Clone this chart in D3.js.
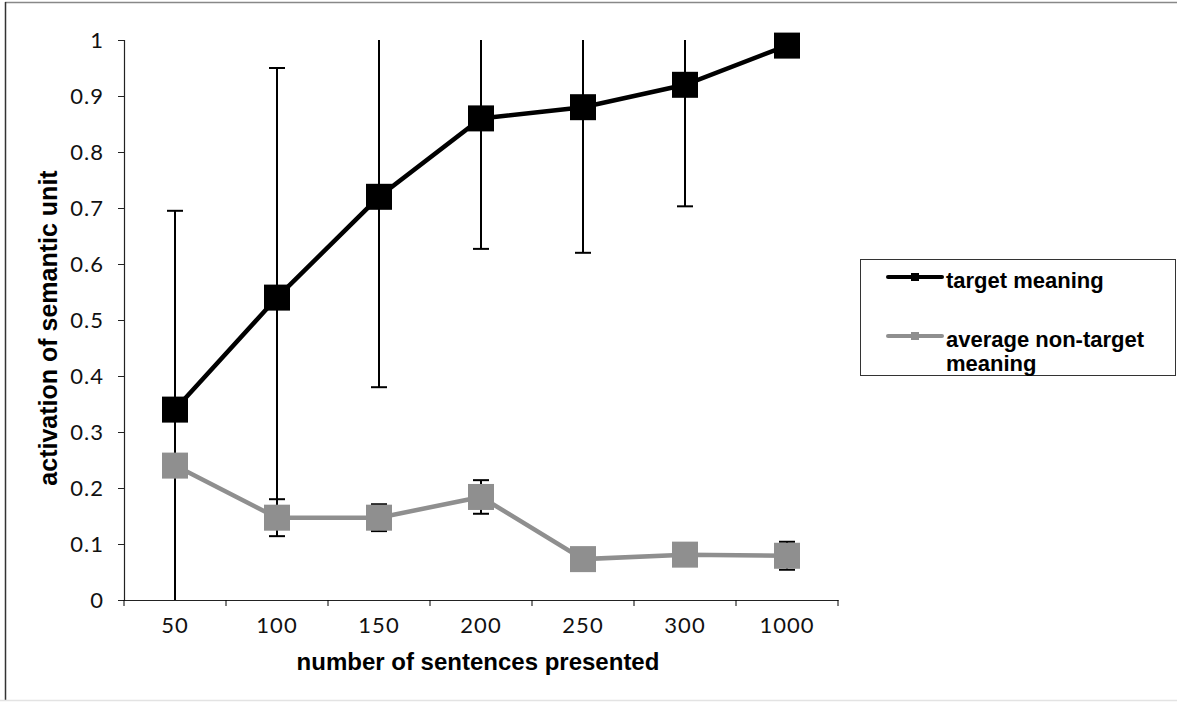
<!DOCTYPE html>
<html>
<head>
<meta charset="utf-8">
<script src="https://cdn.jsdelivr.net/npm/d3@7"></script>
<style>
  body { margin: 0; background: #fff; }
  svg { display: block; }
</style>
</head>
<body>
<div id="chart"></div>
<script>
// data
const categories = ['50', '100', '150', '200', '250', '300', '1000'];
const targetValues = [0.34, 0.54, 0.72, 0.86, 0.88, 0.92, 0.99];
const targetErr = [0.355, 0.41, 0.34, 0.233, 0.26, 0.217, 0];
const nonTargetValues = [0.24, 0.147, 0.147, 0.184, 0.073, 0.081, 0.079];
const nonTargetErr = [0.02, 0.033, 0.024, 0.03, 0.01, 0.01, 0.025];
const yTicks = [0, 0.1, 0.2, 0.3, 0.4, 0.5, 0.6, 0.7, 0.8, 0.9, 1];
const seriesNames = ['target meaning', 'average non-target meaning'];

const W = 1177, H = 702;
const plot = { left: 124, right: 838, top: 40, bottom: 600 };
const tickFont = 'Lato, "Noto Sans", sans-serif';
const boldFont = '"Liberation Sans", Arial, Helvetica, sans-serif';
const grey = '#8f8f8f';

const svg = d3.select('#chart').append('svg')
    .attr('width', W).attr('height', H);

// outer frame
svg.append('line').attr('x1', 5).attr('x2', W).attr('y1', 2.5).attr('y2', 2.5)
    .attr('stroke', '#888').attr('stroke-width', 1.5);
svg.append('line').attr('x1', 5.5).attr('x2', 5.5).attr('y1', 2).attr('y2', 700)
    .attr('stroke', '#333').attr('stroke-width', 1.5);
svg.append('line').attr('x1', 0).attr('x2', W).attr('y1', 700.5).attr('y2', 700.5)
    .attr('stroke', '#e3e3e3').attr('stroke-width', 1.5);

// scales
const x = d3.scaleBand().domain(categories).range([plot.left, plot.right]);
const y = d3.scaleLinear().domain([0, 1]).range([plot.bottom, plot.top]);
const cx = c => x(c) + x.bandwidth() / 2;

svg.append('defs').append('clipPath').attr('id', 'plotClip')
    .append('rect')
    .attr('x', plot.left).attr('y', plot.top)
    .attr('width', plot.right - plot.left).attr('height', plot.bottom - plot.top);

// y axis
const yAxis = svg.append('g')
    .attr('transform', `translate(${plot.left},0)`)
    .call(d3.axisLeft(y).tickValues(yTicks).tickSize(6).tickPadding(14)
        .tickFormat(d => d3.format('~g')(d)));
yAxis.selectAll('text').attr('font-family', tickFont).attr('font-size', 22)
    .attr('letter-spacing', 1).attr('fill', '#111');

// x axis: labels centred, ticks at band edges
const xAxis = svg.append('g')
    .attr('transform', `translate(0,${plot.bottom})`)
    .call(d3.axisBottom(x).tickSize(0).tickPadding(17));
xAxis.selectAll('text').attr('font-family', tickFont).attr('font-size', 22)
    .attr('letter-spacing', 1).attr('fill', '#111');
const edges = categories.map(c => x(c)).concat([x.range()[1]]);
xAxis.selectAll('.edge').data(edges).join('line')
    .attr('class', 'edge')
    .attr('x1', d => d).attr('x2', d => d)
    .attr('y1', 0).attr('y2', 6)
    .attr('stroke', '#000');
svg.selectAll('.domain').attr('stroke', '#222').attr('stroke-width', 1.2);
svg.selectAll('.tick line').attr('stroke', '#222');

// axis titles
svg.append('text')
    .attr('x', (plot.left + plot.right) / 2 - 3).attr('y', 670)
    .attr('text-anchor', 'middle')
    .attr('font-family', boldFont).attr('font-weight', 'bold').attr('font-size', 24)
    .text('number of sentences presented');
svg.append('text')
    .attr('transform', `translate(57,328) rotate(-90)`)
    .attr('text-anchor', 'middle')
    .attr('font-family', boldFont).attr('font-weight', 'bold').attr('font-size', 25)
    .text('activation of semantic unit');

// error bars (behind the markers)
const errG = svg.append('g').attr('clip-path', 'url(#plotClip)');
function drawErr(values, errs) {
    const rows = categories.map((c, i) => ({ c, v: values[i], e: errs[i] }));
    errG.append('g').selectAll('line').data(rows).join('line')
        .attr('x1', d => cx(d.c)).attr('x2', d => cx(d.c))
        .attr('y1', d => y(d.v + d.e)).attr('y2', d => y(d.v - d.e))
        .attr('stroke', '#000').attr('stroke-width', 2);
    [1, -1].forEach(s => {
        errG.append('g').selectAll('line').data(rows.filter(d => d.e > 0)).join('line')
            .attr('x1', d => cx(d.c) - 8).attr('x2', d => cx(d.c) + 8)
            .attr('y1', d => y(d.v + s * d.e)).attr('y2', d => y(d.v + s * d.e))
            .attr('stroke', '#000').attr('stroke-width', 2);
    });
}
drawErr(targetValues, targetErr);
drawErr(nonTargetValues, nonTargetErr);

// series lines + square markers
const line = d3.line().x((d, i) => cx(categories[i])).y(d => y(d));
function drawSeries(values, color) {
    svg.append('path').datum(values)
        .attr('d', line).attr('fill', 'none')
        .attr('stroke', color).attr('stroke-width', 4.5);
    svg.append('g').selectAll('rect').data(values).join('rect')
        .attr('x', (d, i) => cx(categories[i]) - 13)
        .attr('y', d => y(d) - 13)
        .attr('width', 26).attr('height', 26)
        .attr('fill', color);
}
drawSeries(targetValues, '#000');
drawSeries(nonTargetValues, grey);

// legend
const legend = svg.append('g');
legend.append('rect')
    .attr('x', 860.5).attr('y', 259.5).attr('width', 315).attr('height', 116)
    .attr('fill', '#fff').attr('stroke', '#333').attr('stroke-width', 1);
const legendItems = [
    { name: seriesNames[0], color: '#000', y: 277, lines: ['target meaning'] },
    { name: seriesNames[1], color: grey, y: 336, lines: ['average non-target', 'meaning'] }
];
legendItems.forEach(item => {
    legend.append('line')
        .attr('x1', 888).attr('x2', 942).attr('y1', item.y).attr('y2', item.y)
        .attr('stroke', item.color).attr('stroke-width', 4).attr('stroke-linecap', 'round');
    legend.append('rect')
        .attr('x', 911).attr('y', item.y - 4).attr('width', 8).attr('height', 8)
        .attr('fill', item.color);
    const t = legend.append('text')
        .attr('x', 946).attr('y', item.y + 11)
        .attr('font-family', boldFont).attr('font-weight', 'bold').attr('font-size', 22);
    item.lines.forEach((l, i) => {
        t.append('tspan').attr('x', 946).attr('dy', i === 0 ? 0 : 24).text(l);
    });
});
</script>
</body>
</html>
